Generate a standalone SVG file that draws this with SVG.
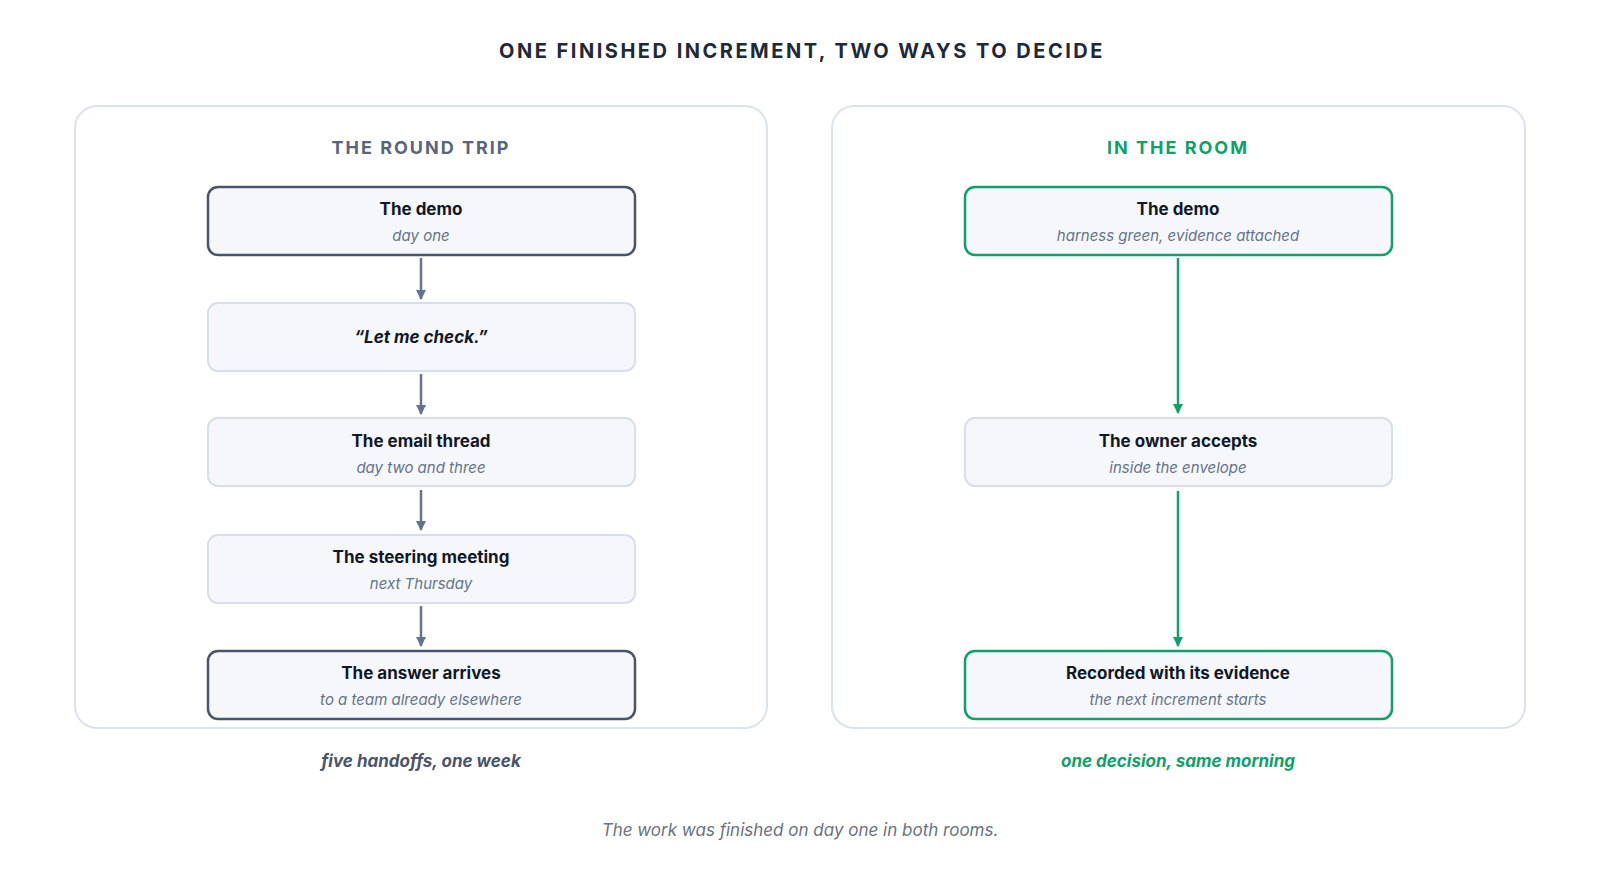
<svg xmlns="http://www.w3.org/2000/svg" width="1600" height="880" viewBox="0 0 1600 880">
<style>
text{font-family:Inter,"Noto Sans","Liberation Sans",sans-serif;text-anchor:middle}
.h{font-size:20px;font-weight:700;letter-spacing:2.5px;fill:#1f2937}
.ph{font-size:18px;font-weight:700;letter-spacing:2px}
.t{font-size:17px;font-weight:700;fill:#111827}
.s{font-size:15px;font-style:italic;fill:#64748b}
.panel{fill:#fff;stroke:#dde3ec;stroke-width:2}
.b{fill:#f5f7fb;stroke:#d8dee9;stroke-width:2}
.bd{fill:#f5f7fb;stroke:#4b5569;stroke-width:2.5}
.bg{fill:#f5f7fb;stroke:#10a06a;stroke-width:2.5}
.ag{stroke:#64748b;stroke-width:2.5}
.gg{stroke:#10a06a;stroke-width:2.5}
</style>
<defs>
<marker id="ma" markerWidth="10" markerHeight="10" refX="9" refY="5" orient="auto" markerUnits="userSpaceOnUse" viewBox="0 0 10 10"><path d="M0,0L10,5L0,10z" fill="#64748b" transform="scale(1)"/></marker>
<marker id="mg" markerWidth="10" markerHeight="10" refX="9" refY="5" orient="auto" markerUnits="userSpaceOnUse" viewBox="0 0 10 10"><path d="M0,0L10,5L0,10z" fill="#10a06a"/></marker>
</defs>
<rect width="1600" height="880" fill="#fff"/>
<text class="h" x="802" y="58">ONE FINISHED INCREMENT, TWO WAYS TO DECIDE</text>
<g id="panel-left"><rect class="panel" x="75" y="106" width="692" height="622" rx="22"/><text class="ph" x="421" y="154" fill="#5b6478">THE ROUND TRIP</text></g>
<g id="panel-right"><rect class="panel" x="832" y="106" width="693" height="622" rx="22"/><text class="ph" x="1178" y="154" fill="#10a06a">IN THE ROOM</text></g>
<g id="l1"><rect class="bd" x="208" y="187" width="427" height="68" rx="10"/><text class="t" x="421" y="215">The demo</text><text class="s" x="421" y="241">day one</text></g>
<g id="l2"><rect class="b" x="208" y="303" width="427" height="68" rx="10"/><text class="t" x="421" y="343" font-style="italic">“Let me check.”</text></g>
<g id="l3"><rect class="b" x="208" y="418" width="427" height="68" rx="10"/><text class="t" x="421" y="447">The email thread</text><text class="s" x="421" y="473">day two and three</text></g>
<g id="l4"><rect class="b" x="208" y="535" width="427" height="68" rx="10"/><text class="t" x="421" y="563">The steering meeting</text><text class="s" x="421" y="589">next Thursday</text></g>
<g id="l5"><rect class="bd" x="208" y="651" width="427" height="68" rx="10"/><text class="t" x="421" y="679">The answer arrives</text><text class="s" x="421" y="705">to a team already elsewhere</text></g>
<g id="r1"><rect class="bg" x="965" y="187" width="427" height="68" rx="10"/><text class="t" x="1178" y="215">The demo</text><text class="s" x="1178" y="241">harness green, evidence attached</text></g>
<g id="r2"><rect class="b" x="965" y="418" width="427" height="68" rx="10"/><text class="t" x="1178" y="447">The owner accepts</text><text class="s" x="1178" y="473">inside the envelope</text></g>
<g id="r3"><rect class="bg" x="965" y="651" width="427" height="68" rx="10"/><text class="t" x="1178" y="679">Recorded with its evidence</text><text class="s" x="1178" y="705">the next increment starts</text></g>
<g id="connectors" fill="none">
<path class="ag" d="M421,258V299" marker-end="url(#ma)"/>
<path class="ag" d="M421,374V414" marker-end="url(#ma)"/>
<path class="ag" d="M421,490V530" marker-end="url(#ma)"/>
<path class="ag" d="M421,606V646" marker-end="url(#ma)"/>
<path class="gg" d="M1178,258V413" marker-end="url(#mg)"/>
<path class="gg" d="M1178,491V646" marker-end="url(#mg)"/>
</g>
<text x="421" y="767" font-size="17" font-weight="700" font-style="italic" fill="#4b5569">five handoffs, one week</text>
<text x="1178" y="767" font-size="17" font-weight="700" font-style="italic" fill="#10a06a">one decision, same morning</text>
<text x="800" y="836" font-size="17" font-style="italic" fill="#6b7280">The work was finished on day one in both rooms.</text>
</svg>
